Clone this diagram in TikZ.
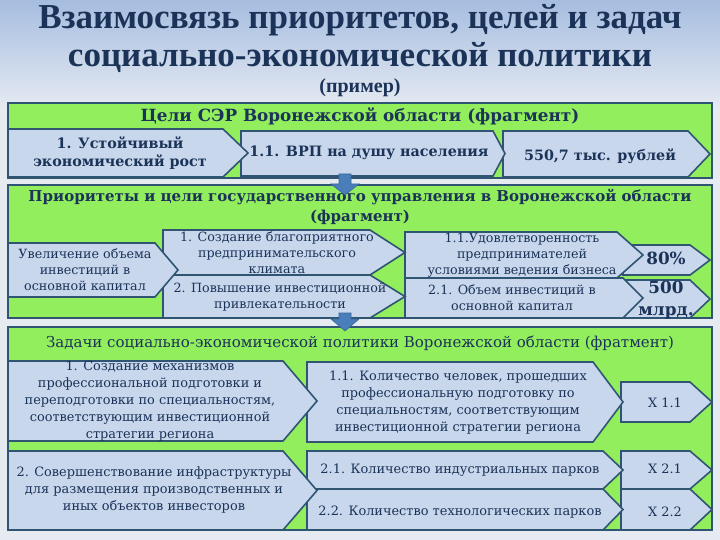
\documentclass[tikz,border=0pt]{standalone}
\usepackage{fontspec}
\setmainfont{DejaVu Serif}
\newfontfamily\titlefont{Liberation Serif}

\definecolor{panelgreen}{HTML}{92EE5C}
\definecolor{boxblue}{HTML}{C8D7EC}
\definecolor{edgeblue}{HTML}{2F5573}
\definecolor{inkblue}{HTML}{1B3358}
\definecolor{arrowblue}{HTML}{4A7EBB}
\definecolor{bgtop}{HTML}{A6BDE0}
\definecolor{bgbot}{HTML}{E6EBF2}

% left, top, corner, tip, bottom
\newcommand{\chevbox}[5]{%
  \draw[chev] (#1,#2) -- (#3,#2) -- (#4,{(#2+#5)/2}) -- (#3,#5) -- (#1,#5) -- cycle;}

\begin{document}
\begin{tikzpicture}[x=1pt, y=-1pt,
    panel/.style={draw=edgeblue, line width=1.6pt, fill=panelgreen},
    chev/.style={draw=edgeblue, line width=1.6pt, fill=boxblue, line join=miter},
    downarrow/.style={fill=arrowblue, draw=arrowblue!80!black, line width=0.6pt},
    title/.style={text=inkblue, font=\titlefont\bfseries\fontsize{35}{38}\selectfont, align=center},
    heading/.style={text=inkblue, font=\bfseries\fontsize{16.8}{20}\selectfont, align=center},
    boldtext/.style={text=inkblue, font=\bfseries\fontsize{14.3}{18}\selectfont, align=center},
    boxtext/.style={text=inkblue, font=\fontsize{12.7}{16}\selectfont, align=center},
    tasktext/.style={text=inkblue, font=\fontsize{12.9}{17}\selectfont, align=center},
    inner sep=0pt]
    \useasboundingbox (0,0) rectangle (720,540);

    % Background
    \fill[bgbot] (0,0) rectangle (720,540);
    \shade[top color=bgtop, bottom color=bgbot] (0,0) rectangle (720,110);

    % Title
    \node[title] (title1) at (360,20) {Взаимосвязь приоритетов, целей и задач};
    \node[title] (title2) at (360,57) {социально-экономической политики};
    \node[title, font=\titlefont\bfseries\fontsize{20}{22}\selectfont] (example) at (360,88) {(пример)};

    % Panel 1: goals
    \draw[panel] (8,103) rectangle (712,178);
    \node[heading] (goalshead) at (360,116) {Цели СЭР Воронежской области (фрагмент)};
    \chevbox{503}{131}{688}{710}{177}
    \chevbox{241}{131}{493}{505}{176}
    \chevbox{8}{129}{223}{248}{177}
    \node[boldtext] (growth) at (120,153) {1. Устойчивый\\экономический рост};
    \node[boldtext] (grp) at (369,153) {1.1. ВРП на душу населения};
    \node[boldtext] (grpval) at (600,156) {550,7 тыс. рублей};

    % Panel 2: priorities
    \draw[panel] (8,185) rectangle (712,318);
    \node[heading, font=\bfseries\fontsize{15}{20}\selectfont] (prioshead) at (360,207)
        {Приоритеты и цели государственного управления в Воронежской области\\(фрагмент)};
    \chevbox{623}{245}{690}{710}{275}
    \chevbox{623}{280}{690}{710}{318}
    \chevbox{405}{232}{617}{643}{278}
    \chevbox{405}{278}{623}{643}{318}
    \chevbox{163}{230}{370}{405}{275}
    \chevbox{163}{275}{370}{405}{318}
    \chevbox{8}{243}{155}{178}{297}
    \node[boxtext] (invest) at (85,270) {Увеличение объема\\инвестиций в\\основной капитал};
    \node[boxtext] (climate) at (277,253) {1. Создание благоприятного\\предпринимательского\\климата};
    \node[boxtext] (attract) at (280,297) {2. Повышение инвестиционной\\привлекательности};
    \node[boxtext] (satisf) at (522,255) {1.1.Удовлетворенность\\предпринимателей\\условиями ведения бизнеса};
    \node[boxtext] (volume) at (512,298) {2.1. Объем инвестиций в\\основной капитал};
    \node[heading] (satval) at (666,258) {80\%};
    \node[heading, font=\bfseries\fontsize{16.8}{22}\selectfont] (volval) at (666,300) {500\\млрд.};

    % Panel 3: tasks
    \draw[panel] (8,327) rectangle (712,530);
    \node[heading, font=\fontsize{15}{19}\selectfont] (taskhead) at (360,343)
        {Задачи социально-экономической политики Воронежской области (фратмент)};
    \chevbox{621}{382}{690}{712}{422}
    \chevbox{621}{451}{690}{712}{489}
    \chevbox{621}{489}{690}{712}{530}
    \chevbox{307}{362}{593}{623}{442}
    \chevbox{307}{451}{603}{623}{489}
    \chevbox{307}{489}{603}{623}{530}
    \chevbox{8}{361}{283}{317}{441}
    \chevbox{8}{451}{283}{317}{530}
    \node[tasktext] (training) at (150,401) {1. Создание механизмов\\профессиональной подготовки и\\переподготовки по специальностям,\\соответствующим инвестиционной\\стратегии региона};
    \node[tasktext] (infra) at (154,490) {2. Совершенствование инфраструктуры\\для размещения производственных и\\иных объектов инвесторов};
    \node[tasktext] (people) at (458,403) {1.1. Количество человек, прошедших\\профессиональную подготовку по\\специальностям, соответствующим\\инвестиционной стратегии региона};
    \node[tasktext] (indparks) at (460,470) {2.1. Количество индустриальных парков};
    \node[tasktext] (techparks) at (460,512) {2.2. Количество технологических парков};
    \node[tasktext] (xone) at (665,403) {X 1.1};
    \node[tasktext] (xtwo) at (665,469) {X 2.1};
    \node[tasktext] (xthree) at (665,512) {X 2.2};

    % Block arrows between panels
    \draw[downarrow] (339,174) -- (351,174) -- (351,184) -- (359,184) -- (345,195)
        -- (331,184) -- (339,184) -- cycle;
    \draw[downarrow] (339,313) -- (351,313) -- (351,319) -- (359,319) -- (345,331)
        -- (331,319) -- (339,319) -- cycle;
\end{tikzpicture}
\end{document}
